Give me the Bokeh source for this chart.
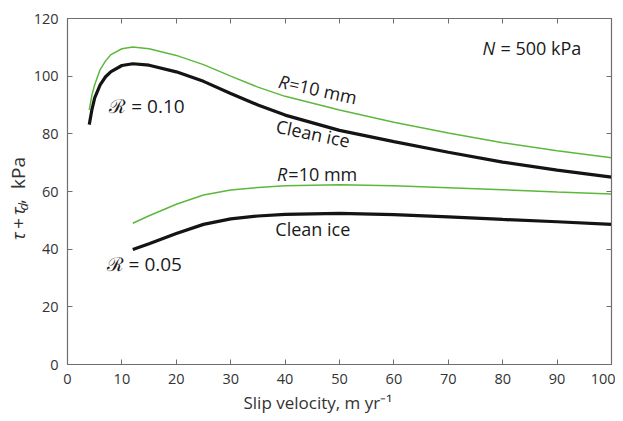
from bokeh.plotting import figure
from bokeh.models import LinearAxis, SingleIntervalTicker, Label, Range1d, Title, CustomJSTickFormatter
from bokeh.layouts import row
from bokeh.core.properties import value
from bokeh.embed import file_html
from bokeh.resources import INLINE
from math import pi, sin

# ---- data ----
x_hi = [4, 4.5, 5, 6, 7, 8, 10, 12, 15, 20, 25, 30, 35, 40, 50, 60, 70, 80, 90, 100]
clean_hi = [83.2, 88.5, 92.5, 97.0, 99.8, 101.6, 103.7, 104.3, 103.8, 101.5, 98.2, 94.0, 90.0, 86.5, 81.2, 77.3, 73.6, 70.2, 67.4, 65.0]
rough_hi = [88.3, 93.5, 97.0, 102.3, 105.3, 107.5, 109.5, 110.1, 109.5, 107.2, 104.0, 100.0, 96.2, 93.0, 88.3, 84.0, 80.3, 76.9, 74.1, 71.7]

x_lo = [12, 15, 20, 25, 30, 35, 40, 50, 60, 70, 80, 90, 100]
clean_lo = [39.9, 41.9, 45.4, 48.6, 50.5, 51.5, 52.1, 52.4, 52.0, 51.2, 50.3, 49.5, 48.6]
rough_lo = [49.0, 51.6, 55.6, 58.8, 60.5, 61.4, 62.0, 62.3, 62.0, 61.3, 60.6, 59.8, 59.1]

x_ticks_step = 10
y_ticks_step = 20

FONT = "Open Sans"
GREEN = "#5cb83c"
BLACK = "#141414"
AXIS = "#6e6e6e"
LABEL = "#333333"

H = 418
LW = 30          # width of the strip holding the y-axis title
W = 585

p = figure(width=W, height=H, output_backend="svg", toolbar_location=None,
           x_range=Range1d(0, 100), y_range=Range1d(0, 120),
           min_border_left=67 - LW, min_border_right=3, min_border_top=18, min_border_bottom=54,
           x_axis_location=None, y_axis_location=None)
p.xgrid.visible = False
p.ygrid.visible = False
p.outline_line_color = AXIS
p.outline_line_width = 1.2
p.background_fill_color = "white"
p.border_fill_color = "white"

def make_axis(step, show_labels):
    ax = LinearAxis(ticker=SingleIntervalTicker(interval=step))
    ax.axis_line_color = AXIS
    ax.major_tick_line_color = AXIS
    ax.major_tick_in = 5
    ax.major_tick_out = 0
    ax.minor_tick_line_color = None
    ax.major_label_text_font = FONT
    ax.major_label_text_color = LABEL
    ax.major_label_text_font_size = "14.5px"
    if show_labels:
        ax.major_label_standoff = 5
    else:
        ax.formatter = CustomJSTickFormatter(code="return ''")
        ax.major_label_standoff = 0
    return ax

p.add_layout(make_axis(x_ticks_step, True), "below")
p.add_layout(make_axis(y_ticks_step, True), "left")
p.add_layout(make_axis(x_ticks_step, False), "above")
p.add_layout(make_axis(y_ticks_step, False), "right")

# x-axis title (left aligned to match reference position)
p.add_layout(Title(text="Slip velocity, m yr\u207b\u00b9", align="left", offset=176,
                   text_font=FONT, text_font_size="17px", text_font_style="normal",
                   text_color=LABEL, standoff=4), "below")

# ---- curves ----
p.line(x_hi, rough_hi, line_color=GREEN, line_width=1.5)
p.line(x_hi, clean_hi, line_color=BLACK, line_width=3.2)
p.line(x_lo, rough_lo, line_color=GREEN, line_width=1.5)
p.line(x_lo, clean_lo, line_color=BLACK, line_width=3.2)

# ---- in-plot annotations ----
DY = 2.4   # baseline correction (data units)

def txt(x, y, s, size="18px", style="normal", angle=0.0):
    dx = -sin(angle) * DY * 0.19 if angle else 0.0
    p.add_layout(Label(x=x + dx, y=y + DY, text=s, text_font=FONT, text_font_size=size,
                       text_font_style=style, text_color="#1a1a1a", angle=angle,
                       text_align="left", text_baseline="alphabetic"))

txt(7.7, 87.4, "\u211b = 0.10", size="19px")
txt(7.2, 32.3, "\u211b = 0.05", size="19px")

txt(76.3, 107.2, "N", style="italic")
txt(79.6, 107.2, "= 500 kPa")

a1 = -0.215
txt(38.8, 96.0, "R", style="italic", angle=a1)
txt(40.7, 95.2, "=10 mm", angle=a1)
a2 = -0.205
txt(38.3, 80.4, "Clean ice", angle=a2)

txt(38.5, 63.5, "R", style="italic")
txt(40.6, 63.5, "=10 mm")
txt(38.2, 44.7, "Clean ice")

# ---- y-axis title strip ----
q = figure(width=LW, height=H, output_backend="svg", toolbar_location=None,
           x_range=Range1d(0, LW), y_range=Range1d(0, H),
           min_border=0, x_axis_location=None, y_axis_location=None)
q.xgrid.visible = False
q.ygrid.visible = False
q.outline_line_color = None
q.background_fill_color = "white"
q.border_fill_color = "white"

def ytxt(x, y, s, size, style):
    q.text(x=[x], y=[y], text=[s], angle=pi / 2,
           text_font=value(FONT), text_font_size=value(size), text_font_style=style,
           text_color=LABEL, text_align="left", text_baseline="alphabetic")

ytxt(17, 150, "\u03c4\u2009+\u2009\u03c4", "19px", "italic")
ytxt(22, 186, "d", "13px", "italic")
ytxt(17, 194, ",", "19px", "normal")
ytxt(17, 212, "kPa", "19px", "normal")

layout = row(q, p)
open("out.html", "w").write(file_html(layout, INLINE))
